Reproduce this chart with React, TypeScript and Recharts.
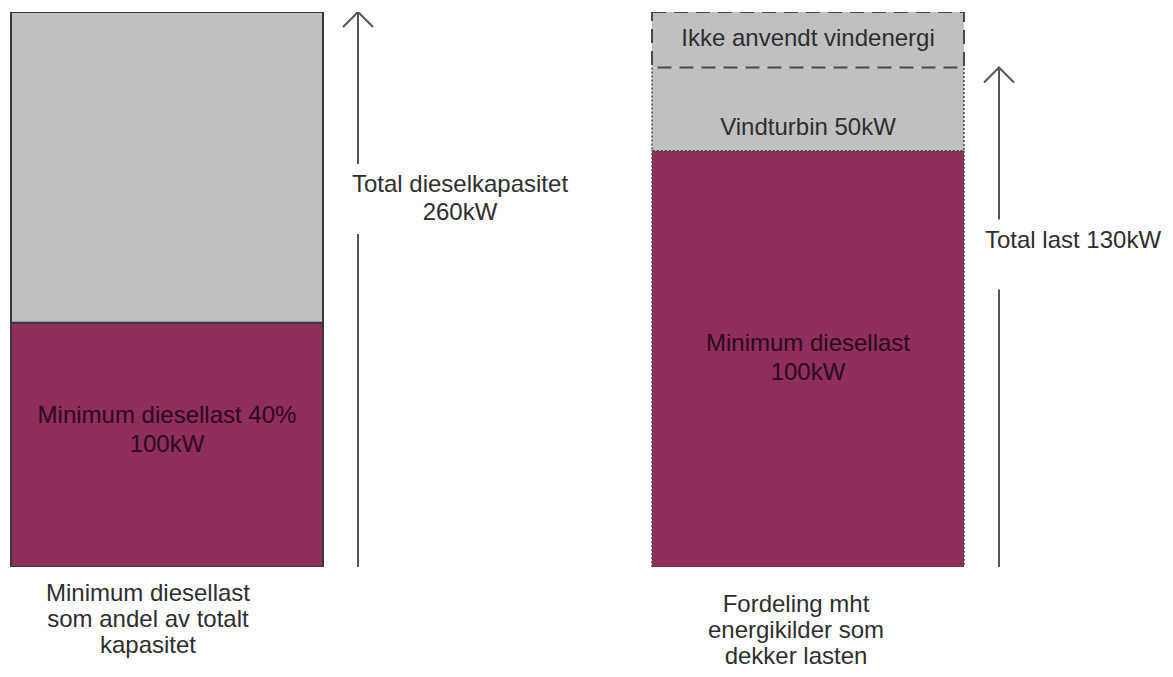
import React from 'react';
import { BarChart, Bar, XAxis, YAxis } from 'recharts';

// two columns, bottom caption as category
const categories = [
  'Minimum diesellast\nsom andel av totalt\nkapasitet',
  'Fordeling mht\nenergikilder som\ndekker lasten',
];
// segment heights in % of the drawn column (the sketch is not to scale)
const dieselLoad = [44, 75];
const dieselSpare = [56, 0];
const windUsed = [0, 15];
const windUnused = [0, 10];
const arrowSpan = [100, 90];

const dieselLabels = ['Minimum diesellast 40%\n100kW', 'Minimum diesellast\n100kW'];
const windUsedLabels = ['', 'Vindturbin 50kW'];
const windUnusedLabels = ['', 'Ikke anvendt vindenergi'];
const arrowLabels = ['Total dieselkapasitet\n260kW', 'Total last 130kW'];

const PURPLE = '#8F2D5D';
const GRAY = '#C0C0C0';
const INK = '#2e2e2e';
const FONT = '"Liberation Sans", Arial, sans-serif';

const rows = categories.map((name, i) => ({
  name,
  diesel: dieselLoad[i],
  spare: dieselSpare[i],
  wind: windUsed[i],
  unused: windUnused[i],
  arrow: arrowSpan[i],
  dieselLabel: dieselLabels[i],
  windLabel: windUsedLabels[i],
  unusedLabel: windUnusedLabels[i],
  arrowLabel: arrowLabels[i],
}));

const PANELS = [
  { left: 0, width: 586, marginRight: 182, dotted: false, dieselDy: -22, windDy: 0, unusedDy: 0, captionDx: -54, captionDy: 34, arrowTextDx: 102 },
  { left: 586, width: 587, marginRight: 73, dotted: true, dieselDy: -8, windDy: 26, unusedDy: 6, captionDx: -47, captionDy: 45, arrowTextDx: 74 },
];

const Lines = ({ x, y, text, pitch, fill }: any) => (
  <text x={x} y={y} textAnchor="middle" fill={fill} fontFamily={FONT} fontSize={24}>
    {String(text).split('\n').map((t, i) => (
      <tspan key={i} x={x} dy={i === 0 ? 0 : pitch}>{t}</tspan>
    ))}
  </text>
);

// fill + outline; the top edge can be left out so the segment above owns it
const segmentShape = (fill: string, stroke: any, labelKey: string | null, labelDy: number, textFill: string, drawTop = true) => (props: any) => {
  const { x, y, width, height, payload } = props;
  if (!height || height <= 0.5) return <g />;
  const label = labelKey ? payload[labelKey] : '';
  const r = x + width;
  const b = y + height;
  const d = drawTop
    ? `M${x},${y} H${r} V${b} H${x} Z`
    : `M${x},${y} V${b} H${r} V${y}`;
  return (
    <g>
      <rect x={x} y={y} width={width} height={height} fill={fill} stroke="none" />
      <path d={d} fill="none" stroke={stroke.color} strokeWidth={stroke.width} strokeDasharray={stroke.dash} />
      {label ? <Lines x={x + width / 2} y={y + height / 2 + labelDy} text={label} pitch={29} fill={textFill} /> : null}
    </g>
  );
};

const arrowShape = (textDx: number) => (props: any) => {
  const { x, y, width, height, payload } = props;
  const cx = x + width / 2;
  const bottom = y + height;
  return (
    <g>
      <line x1={cx} y1={y} x2={cx} y2={y + 152} stroke="#555" strokeWidth={2} />
      <line x1={cx} y1={y + 222} x2={cx} y2={bottom} stroke="#555" strokeWidth={2} />
      <polyline points={`${cx - 15},${y + 15} ${cx},${y} ${cx + 15},${y + 15}`} fill="none" stroke="#555" strokeWidth={2} />
      <Lines x={cx + textDx} y={y + 180} text={payload.arrowLabel} pitch={28} fill={INK} />
    </g>
  );
};

const captionTick = (dx: number, dy: number) => (props: any) => {
  const { x, y, payload } = props;
  return <Lines x={x + dx} y={y + dy} text={payload.value} pitch={26} fill={INK} />;
};

const Panel = ({ idx }: { idx: number }) => {
  const p = PANELS[idx];
  const solid = { color: '#383838', width: 2, dash: undefined };
  const dotted = { color: '#444', width: 1.5, dash: '2 2' };
  const dashed = { color: '#4a4a4a', width: 2, dash: '14 8' };
  const edge = p.dotted ? dotted : solid;
  return (
    <div style={{ position: 'absolute', left: p.left, top: 0 }}>
      <BarChart
        width={p.width}
        height={677}
        data={[rows[idx]]}
        margin={{ top: 12, right: p.marginRight, bottom: 10, left: 0 }}
        barGap={0}
        barCategoryGap={0}
      >
        <XAxis dataKey="name" height={100} axisLine={false} tickLine={false} tickSize={0} tickMargin={0} interval={0} tick={captionTick(p.captionDx, p.captionDy)} />
        <YAxis hide domain={[0, 100]} allowDataOverflow />
        <Bar dataKey="diesel" stackId="col" barSize={312} isAnimationActive={false} shape={segmentShape(PURPLE, edge, 'dieselLabel', p.dieselDy, '#2a0b1a')} />
        <Bar dataKey="spare" stackId="col" barSize={312} isAnimationActive={false} shape={segmentShape(GRAY, edge, null, 0, INK)} />
        <Bar dataKey="wind" stackId="col" barSize={312} isAnimationActive={false} shape={segmentShape(GRAY, edge, 'windLabel', p.windDy, INK, false)} />
        <Bar dataKey="unused" stackId="col" barSize={312} isAnimationActive={false} shape={segmentShape(GRAY, dashed, 'unusedLabel', p.unusedDy, INK)} />
        <Bar dataKey="arrow" barSize={70} isAnimationActive={false} shape={arrowShape(p.arrowTextDx)} />
      </BarChart>
    </div>
  );
};

export default function App() {
  return (
    <div style={{ position: 'absolute', left: 0, top: 0, width: 1173, height: 677, background: '#fff' }}>
      <Panel idx={0} />
      <Panel idx={1} />
    </div>
  );
}
